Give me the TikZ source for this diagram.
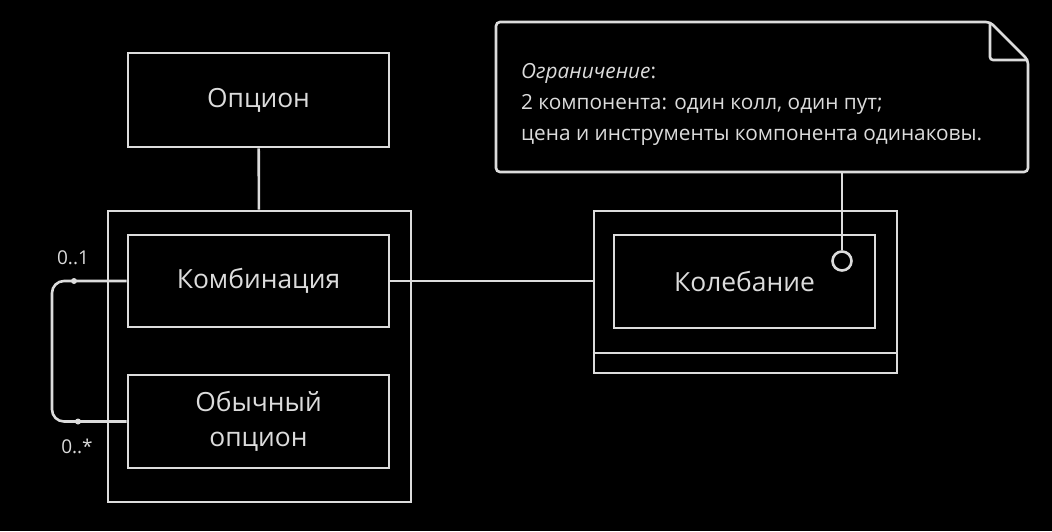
\documentclass[tikz,border=0pt]{standalone}
\usepackage{fontspec}
\setmainfont{Open Sans}
\usepackage{xcolor}
\definecolor{fg}{RGB}{220,220,220}
\usetikzlibrary{positioning}

\begin{document}
\begin{tikzpicture}[x=1pt, y=-1pt,
        box/.style={draw=fg, line width=2.6pt, rectangle, text=fg, inner sep=0pt, minimum width=261pt, font=\fontsize{26.4}{34.5}\selectfont, align=center},
        wire/.style={draw=fg, line width=2.6pt},
        mult/.style={text=fg, font=\fontsize{19}{22}\selectfont, inner sep=0pt}]
        \fill[black] (0,0) rectangle (1052,531);
        \useasboundingbox (0,0) rectangle (1052,531);

        % Option and its parts
        \node[box, minimum height=94pt] (option) at (258.5, 100) {Опцион};
        \node[box, minimum width=303pt, minimum height=291pt] (group) at (259.5, 356.5) {};
        \node[box, minimum height=92pt] (combo) at (258.5, 281) {Комбинация};
        \node[box, minimum height=93pt] (plain) at (258.5, 421.5) {Обычный\\опцион};
        \draw[wire] (option) -- (group);

        % Self association
        \draw[wire, rounded corners=12pt] (combo.west) -- (52, 281) -- (52, 421.5) -- (plain.west);
        \fill[fg] (74, 281) circle (3pt);
        \fill[fg] (78, 421.5) circle (3pt);
        \node[mult] (m1) at (73, 258) {0..1};
        \node[mult] (m2) at (77, 446) {0..*};

        % Volatility
        \node[box, minimum width=303pt, minimum height=162pt] (volbox) at (745.5, 292) {};
        \node[box, minimum height=93pt] (vol) at (744.5, 281.5) {Колебание};
        \draw[wire] (volbox.west |- 353, 353) -- (volbox.east |- 353, 353);
        \draw[wire] (combo.east) -- (combo.east -| volbox.west);
        \node[draw=fg, line width=2.6pt, circle, minimum size=19pt, inner sep=0pt] (pin) at (842, 261) {};

        % Constraint note
        \draw[wire, rounded corners=4pt] (496, 22) -- (990, 22) -- (1028, 60) -- (1028, 172) -- (496, 172) -- cycle;
        \draw[wire, rounded corners=3pt] (990, 22) -- (990, 60) -- (1028, 60);
        \coordinate (notebottom) at (842, 172);
        \node[text=fg, anchor=north west, align=left, inner sep=0pt, font=\fontsize{20.8}{31}\selectfont] (note) at (521, 63)
            {\textit{Ограничение}:\\2 компонента: один колл, один пут;\\цена и инструменты компонента одинаковы.};
        \draw[wire] (pin) -- (notebottom);
    \end{tikzpicture}
\end{document}
